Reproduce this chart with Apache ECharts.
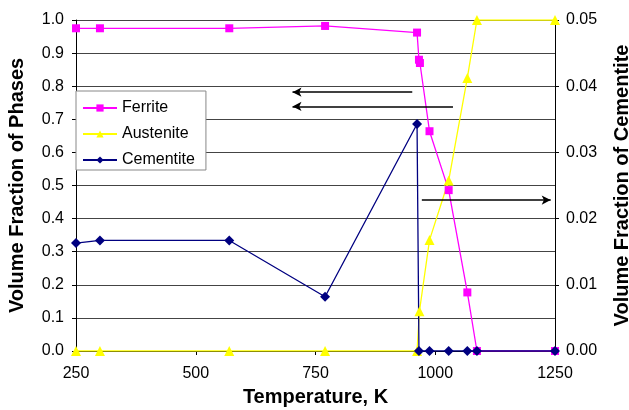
<!DOCTYPE html>
<html>
<head>
<meta charset="utf-8">
<script src="https://cdn.jsdelivr.net/npm/echarts@6/dist/echarts.min.js"></script>
<style>
  html, body { margin: 0; padding: 0; background: #fff; }
  #chart { width: 629px; height: 410px; }
</style>
</head>
<body>
<div id="chart"></div>
<script>
// temperatures (K) and volume fractions
const ferriteT = [250, 300, 570, 770, 962, 966, 968, 988, 1028, 1067, 1087, 1250];
const ferriteV = [0.975, 0.975, 0.975, 0.982, 0.962, 0.88, 0.87, 0.664, 0.486, 0.177, 0, 0];

const austeniteT = [250, 300, 570, 770, 962, 967, 988, 1028, 1067, 1087, 1250];
const austeniteV = [0, 0, 0, 0, 0, 0.12, 0.335, 0.515, 0.825, 1.0, 1.0];

const cementiteT = [250, 300, 570, 770, 962, 966, 988, 1028, 1067, 1087, 1250];
const cementiteV = [0.0163, 0.0167, 0.0167, 0.0082, 0.0343, 0, 0, 0, 0, 0, 0];

// arrows: [fromT, fromV, toT, toV] on left axis
const arrows = [
  [952, 0.782, 702, 0.782],
  [1037, 0.739, 702, 0.739],
  [972, 0.456, 1241, 0.456]
];

const seriesNames = ['Ferrite', 'Austenite', 'Cementite'];

const pairs = (t, v) => t.map((x, i) => [x, v[i]]);

const font = 'Liberation Sans, Arial, sans-serif';
const titleStyle = { fontFamily: font, fontSize: 20, fontWeight: 'bold', color: '#000' };
const tickStyle = { fontFamily: font, fontSize: 16, color: '#000' };

const chart = echarts.init(document.getElementById('chart'));

chart.setOption({
  backgroundColor: '#fff',
  animation: false,
  grid: { left: 76, right: 74, top: 20, bottom: 59, outerBoundsMode: 'none', containLabel: false },
  legend: {
    data: seriesNames,
    orient: 'vertical',
    left: 76,
    top: 91,
    padding: [9, 11, 2, 6],
    itemGap: 10,
    itemWidth: 34,
    itemHeight: 9,
    backgroundColor: '#fff',
    borderColor: '#888',
    borderWidth: 1,
    borderRadius: 0,
    textStyle: { fontFamily: font, fontSize: 16, color: '#000' }
  },
  xAxis: {
    type: 'value',
    min: 250,
    max: 1250,
    interval: 250,
    name: 'Temperature, K',
    nameLocation: 'middle',
    nameGap: 36,
    nameTextStyle: titleStyle,
    axisLine: { onZero: false, lineStyle: { color: '#000' } },
    axisTick: { show: true, length: 4, lineStyle: { color: '#000' } },
    axisLabel: Object.assign({ margin: 15, formatter: v => String(v) }, tickStyle),
    splitLine: { show: false }
  },
  yAxis: [
    {
      type: 'value',
      min: 0,
      max: 1,
      interval: 0.1,
      name: 'Volume Fraction of Phases',
      nameLocation: 'middle',
      nameGap: 49,
      nameTextStyle: titleStyle,
      axisLine: { show: true, lineStyle: { color: '#000' } },
      axisTick: { show: true, length: 4, lineStyle: { color: '#000' } },
      axisLabel: Object.assign({ margin: 12, formatter: v => v.toFixed(1) }, tickStyle),
      splitLine: { show: true, lineStyle: { color: '#444', width: 1 } }
    },
    {
      type: 'value',
      min: 0,
      max: 0.05,
      interval: 0.01,
      position: 'right',
      name: 'Volume Fraction of Cementite',
      nameLocation: 'middle',
      nameGap: 57,
      nameRotate: 90,
      nameTextStyle: titleStyle,
      axisLine: { show: true, lineStyle: { color: '#000' } },
      axisTick: { show: true, length: 4, lineStyle: { color: '#000' } },
      axisLabel: Object.assign({ margin: 11, formatter: v => v.toFixed(2) }, tickStyle),
      splitLine: { show: false }
    }
  ],
  series: [
    {
      name: 'Ferrite',
      type: 'line',
      yAxisIndex: 0,
      data: pairs(ferriteT, ferriteV),
      symbol: 'rect',
      symbolSize: 8,
      color: '#FF00FF',
      lineStyle: { width: 1.3, color: '#FF00FF' },
      itemStyle: { color: '#FF00FF' },
      markLine: {
        silent: true,
        symbol: ['none', 'arrow'],
        symbolSize: [7, 9],
        label: { show: false },
        lineStyle: { color: '#000', width: 1.5, type: 'solid' },
        data: arrows.map(a => [{ coord: [a[0], a[1]] }, { coord: [a[2], a[3]] }])
      }
    },
    {
      name: 'Austenite',
      type: 'line',
      yAxisIndex: 0,
      data: pairs(austeniteT, austeniteV),
      symbol: 'triangle',
      symbolSize: 10,
      color: '#FFFF00',
      lineStyle: { width: 1.3, color: '#FFFF00' },
      itemStyle: { color: '#FFFF00' }
    },
    {
      name: 'Cementite',
      type: 'line',
      yAxisIndex: 1,
      data: pairs(cementiteT, cementiteV),
      symbol: 'diamond',
      symbolSize: 10,
      color: '#000080',
      lineStyle: { width: 1.3, color: '#000080' },
      itemStyle: { color: '#000080' }
    }
  ]
});
</script>
</body>
</html>
